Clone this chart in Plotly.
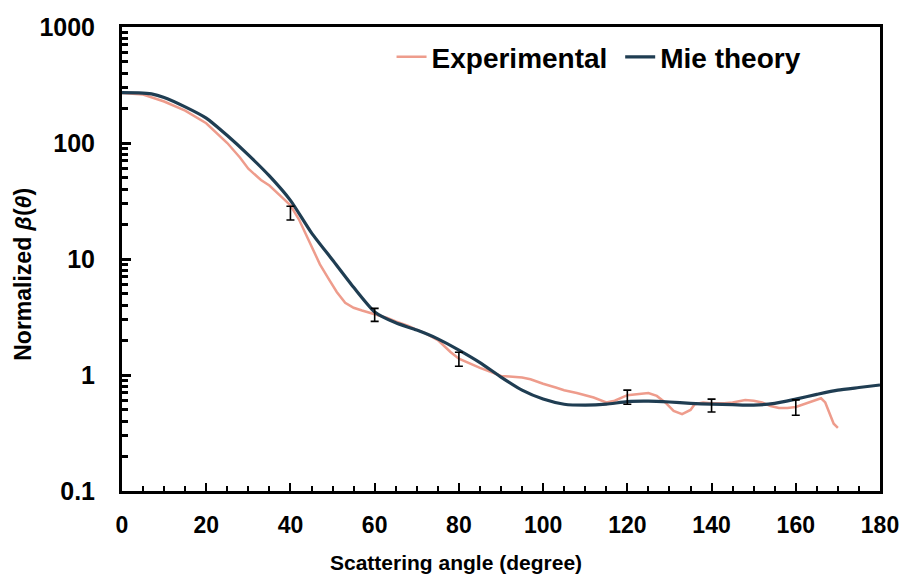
import plotly.graph_objects as go

# Scattering angle (degrees) and normalized phase function, measured
exp_angle = [0, 5, 10, 15, 20, 25, 28, 30, 33, 35, 38, 40, 42, 45, 47, 49, 51, 53, 55, 57,
             60, 63, 65, 68, 70, 72, 75, 77, 78, 80, 82, 85, 88, 90, 92, 95, 97, 100, 103,
             105, 108, 110, 112, 115, 117, 120, 123, 125, 127, 129, 131, 133, 135, 136,
             138, 140, 143, 145, 148, 150, 152, 154, 156, 158, 160, 162, 164, 166, 167,
             168, 169, 170]
exp_beta = [270, 262, 228, 190, 148, 100, 75, 60, 48, 43, 34, 29, 22, 13, 9, 6.8, 5.2, 4.2,
            3.8, 3.6, 3.35, 3.1, 2.9, 2.65, 2.45, 2.3, 2.0, 1.7, 1.58, 1.38, 1.28, 1.15,
            1.05, 0.98, 0.97, 0.95, 0.92, 0.84, 0.78, 0.74, 0.70, 0.67, 0.64, 0.58, 0.60,
            0.67, 0.69, 0.70, 0.66, 0.58, 0.49, 0.46, 0.50, 0.56, 0.58, 0.57, 0.57, 0.58,
            0.61, 0.60, 0.58, 0.54, 0.52, 0.52, 0.53, 0.56, 0.60, 0.63, 0.58, 0.46, 0.38,
            0.35]

# Mie theory prediction
mie_angle = [0, 4, 7, 10, 15, 20, 25, 30, 35, 40, 45, 50, 55, 60, 65, 70, 75, 80, 85, 90,
             95, 100, 105, 110, 115, 120, 125, 130, 135, 140, 145, 150, 155, 160, 165, 170,
             175, 180]
mie_beta = [272, 271, 265, 247, 205, 164, 116, 79, 52, 32, 16.8, 9.8, 5.7, 3.5, 2.82, 2.44,
            2.05, 1.64, 1.28, 0.96, 0.74, 0.62, 0.56, 0.55, 0.56, 0.59, 0.595, 0.585, 0.57,
            0.56, 0.555, 0.55, 0.57, 0.62, 0.68, 0.74, 0.78, 0.82]

# Error bars on selected measurements
err_angle = [40, 60, 80, 120, 140, 160]
err_beta = [25, 3.3, 1.37, 0.65, 0.55, 0.53]
err_plus = [3.5, 0.45, 0.2, 0.09, 0.07, 0.08]
err_minus = [3.3, 0.4, 0.18, 0.09, 0.07, 0.08]

y_tick_vals = [0.1, 1, 10, 100, 1000]
y_tick_text = ["0.1", "1", "10", "100", "1000"]
x_tick_vals = [0, 20, 40, 60, 80, 100, 120, 140, 160, 180]

FONT = "Liberation Sans, Arial, sans-serif"
SALMON = "#EE9C8C"
NAVY = "#1F3D52"

fig = go.Figure()

fig.add_trace(go.Scatter(
    x=exp_angle, y=exp_beta, mode="lines", name="Experimental\u00a0",
    line=dict(color=SALMON, width=2.5),
))
fig.add_trace(go.Scatter(
    x=mie_angle, y=mie_beta, mode="lines", name="Mie theory",
    line=dict(color=NAVY, width=3.2, shape="spline", smoothing=0.6),
))
fig.add_trace(go.Scatter(
    x=err_angle, y=err_beta, mode="markers", showlegend=False,
    marker=dict(size=1, color="black", opacity=0),
    error_y=dict(type="data", array=err_plus, arrayminus=err_minus, symmetric=False,
                 color="black", thickness=1.6, width=4),
))

minor_y = [m * 10 ** d for d in range(-1, 3) for m in range(2, 10)]

fig.update_layout(
    width=911, height=582,
    margin=dict(l=122, r=24, t=27, b=91),
    paper_bgcolor="white", plot_bgcolor="white",
    font=dict(family=FONT, size=22, color="black"),
    showlegend=True,
    legend=dict(
        orientation="h", x=0.3556, y=0.935, xanchor="left", yanchor="middle",
        bgcolor="rgba(0,0,0,0)", font=dict(family=FONT, size=28, color="black", weight="bold"),
        itemwidth=30, tracegroupgap=0,
    ),
    xaxis=dict(
        range=[0, 180], tickvals=x_tick_vals, showgrid=False, zeroline=False,
        showline=True, linecolor="black", linewidth=3, mirror=True,
        ticks="inside", ticklen=8, tickwidth=2, tickcolor="black",
        ticklabelstandoff=11,
        tickfont=dict(family=FONT, size=23, weight="bold"),
        minor=dict(dtick=5, ticks="inside", ticklen=5, tickwidth=2, tickcolor="black",
                   showgrid=False),
    ),
    yaxis=dict(
        type="log", range=[-1, 3], tickvals=y_tick_vals, ticktext=y_tick_text,
        showgrid=False, zeroline=False,
        showline=True, linecolor="black", linewidth=3, mirror=True,
        ticks="inside", ticklen=9, tickwidth=2.5, tickcolor="black",
        ticklabelstandoff=19,
        tickfont=dict(family=FONT, size=25, weight="bold"),
        minor=dict(tickvals=minor_y, ticks="inside", ticklen=6, tickwidth=2.5,
                   tickcolor="black", showgrid=False),
    ),
    annotations=[
        dict(text="<b>Scattering angle (degree)</b>", xref="paper", yref="paper",
             x=0.4405, y=-0.155, xanchor="center", yanchor="middle", showarrow=False,
             font=dict(family=FONT, size=21, color="black")),
        dict(text="<b>Normalized <i>β</i>(<i>θ</i>)</b>", xref="paper", yref="paper",
             x=-0.1307, y=0.468, xanchor="center", yanchor="middle", showarrow=False,
             textangle=-90, font=dict(family=FONT, size=23, color="black")),
    ],
)

fig.write_html("out.html")
